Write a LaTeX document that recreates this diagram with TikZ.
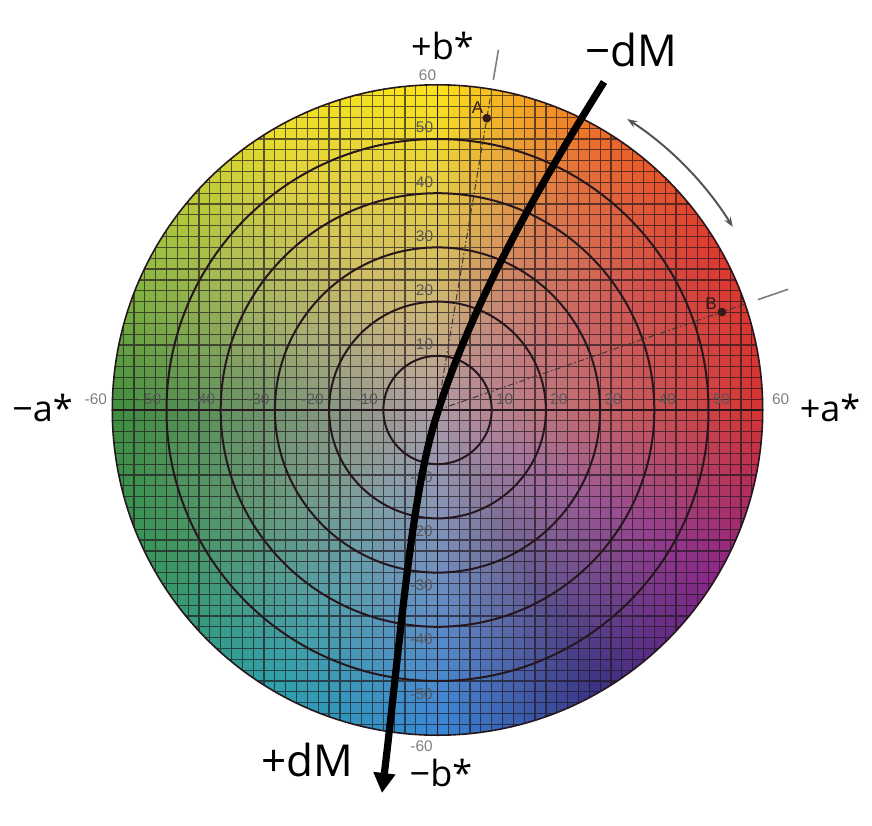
\documentclass[tikz,border=0pt]{standalone}
\usepackage{fontspec}
\setmainfont{Liberation Sans}
\newfontfamily\labfont{Open Sans}
\usetikzlibrary{arrows.meta}
\definecolor{tickgray}{RGB}{88,88,88}
\definecolor{ringc}{RGB}{38,22,30}
\definecolor{gridc}{RGB}{30,22,28}
\definecolor{refc}{RGB}{70,55,55}
\definecolor{dotc}{RGB}{55,25,25}
\definecolor{outc}{RGB}{125,125,125}
\definecolor{arrc}{RGB}{85,85,85}
\def\RA{212,222,238,252,235,158,62,55,45,55,58,140,212}
\def\GA{52,56,108,228,222,192,140,150,160,135,48,38,52}
\def\BA{50,46,40,25,42,64,62,95,170,215,130,135,50}
\begin{document}
\begin{tikzpicture}[x=0.5pt,y=0.5pt,
  tick/.style={font=\fontsize{7.7}{8}\selectfont, text=tickgray, inner sep=0pt},
  ptlab/.style={font=\fontsize{8.5}{9}\selectfont, text=dotc, inner sep=0pt},
  biglab/.style={font=\labfont\fontsize{18}{20}\selectfont, text=black, inner sep=0pt, anchor=base},
  dmlab/.style={font=\labfont\fontsize{22}{24}\selectfont, text=black, inner sep=0pt, anchor=base},
  ring/.style={draw=ringc, line width=1pt},
  gridline/.style={draw=gridc, line width=0.6pt, opacity=0.68},
  axisline/.style={draw=ringc, line width=0.8pt},
  refline/.style={draw=refc, line width=0.5pt, dash pattern=on 3pt off 1.2pt on 0.8pt off 1.2pt},
  outmark/.style={draw=outc, line width=0.8pt},
  huearrow/.style={draw=arrc, line width=1pt, arrows={Stealth[length=5pt,width=3.6pt]-Stealth[length=5pt,width=3.6pt]}},
  dmline/.style={draw=black, line width=3.6pt, arrows={-Triangle[length=10pt,width=10.5pt]}},
  dot/.style={fill=dotc}
]
\fill[white] (-437.5,-415) rectangle (434.5,410);
\useasboundingbox (-437.5,-415) rectangle (434.5,410);
\begin{scope}[x=2.71pt,y=2.71pt]
  \coordinate (O) at (0,0);
  \begin{scope}
    \clip (O) circle[radius=60];
    \foreach \i in {-30,...,29}{
      \foreach \j in {-30,...,29}{
        \pgfmathsetmacro\pa{2*\i+1}
        \pgfmathsetmacro\pb{2*\j+1}
        \pgfmathsetmacro\rad{sqrt(\pa*\pa+\pb*\pb)}
        \pgfmathtruncatemacro\inside{\rad<62.5 ? 1 : 0}
        \ifnum\inside=1
          \pgfmathsetmacro\hue{mod(atan2(\pb,\pa)+360,360)}
          \pgfmathtruncatemacro\kq{floor(\hue/30)}
          \pgfmathtruncatemacro\kr{\kq+1}
          \pgfmathsetmacro\tw{(\hue-30*\kq)/30}
          \pgfmathsetmacro\ff{min(\rad/60,1)^0.9}
          \pgfmathsetmacro\cR{(176+(({\RA}[\kq])*(1-\tw)+({\RA}[\kr])*\tw-176)*\ff)/255}
          \pgfmathsetmacro\cG{(156+(({\GA}[\kq])*(1-\tw)+({\GA}[\kr])*\tw-156)*\ff)/255}
          \pgfmathsetmacro\cB{(166+(({\BA}[\kq])*(1-\tw)+({\BA}[\kr])*\tw-166)*\ff)/255}
          \definecolor{cellc}{rgb}{\cR,\cG,\cB}
          \fill[cellc] (\pa-1.02,\pb-1.02) rectangle (\pa+1.02,\pb+1.02);
        \fi
      }
    }
    \draw[gridline] (-60,-60) grid[step=2] (60,60);
  \end{scope}
  \foreach \r in {10,20,30,40,50} \draw[ring] (O) circle[radius=\r];
  \draw[draw=ringc, line width=0.8pt] (O) circle[radius=60];
  \draw[axisline] (-60,0) -- (60,0);
  \draw[axisline] (0,-60) -- (0,60);
  % tick labels
  \foreach \v in {10,20,30,40,50}{
    \node[tick,anchor=south east,xshift=-2.5pt,yshift=2.5pt] (hm\v) at (-\v,0) {-\v};
    \node[tick,anchor=south west,xshift=2pt,yshift=2.5pt] (hp\v) at (\v,0) {\v};
    \node[tick,anchor=south east,xshift=-2pt,yshift=2.8pt] (vp\v) at (0,\v) {\v};
    \node[tick,anchor=north east,xshift=-2.2pt,yshift=-3.5pt] (vm\v) at (0,-\v) {-\v};
  }
  \node[tick,anchor=south east,xshift=-2.5pt,yshift=2.5pt,text=gray] (hm60) at (-60,0) {-60};
  \node[tick,anchor=south west,xshift=4.5pt,yshift=2.5pt,text=gray] (hp60) at (60,0) {60};
  \node[tick,anchor=south east,xshift=-0.5pt,yshift=2pt,text=gray] (vp60) at (0,60) {60};
  \node[tick,anchor=north east,xshift=-2.2pt,yshift=-2.5pt,text=gray] (vm60) at (0,-60) {-60};
  % reference lines A and B
  \coordinate (A) at (80.4:54.6);
  \coordinate (Aedge) at (80.4:60);
  \coordinate (Aout1) at (80.4:61.8);
  \coordinate (Aout2) at (80.4:67.4);
  \coordinate (B) at (19.0:55.5);
  \coordinate (Bedge) at (19.0:60);
  \coordinate (Bout1) at (19.0:62.5);
  \coordinate (Bout2) at (19.0:68.4);
  \draw[refline] (O) -- (Aedge);
  \draw[refline] (O) -- (Bedge);
  \draw[outmark] (Aout1) -- (Aout2);
  \draw[outmark] (Bout1) -- (Bout2);
  \fill[dot] (A) circle[radius=2.2pt];
  \fill[dot] (B) circle[radius=2.2pt];
  % hue arrow
  \coordinate (H1) at (56.9:64.1);
  \draw[huearrow] (H1) arc[start angle=56.9,end angle=31.8,radius=64.1];
\end{scope}
\node[ptlab] (Alab) at (40,302) {A};
\node[ptlab] (Blab) at (273.5,106.5) {B};
% thick dM curve
\coordinate (dmTop) at (166.5,328);
\coordinate (dmMid) at (-4.2,-16.7);
\coordinate (dmTip) at (-55.5,-383);
\draw[dmline] (dmTop) .. controls (100,222) and (30,100) .. (dmMid)
  .. controls (-27,-95) and (-37.5,-234) .. (dmTip);
% axis names
\node[biglab] (bplus) at (5,350) {+b*};
\node[biglab] (bminus) at (3.5,-376) {−b*};
\node[biglab] (aminus) at (-395,-11.7) {−a*};
\node[biglab] (aplus) at (392.5,-11.7) {+a*};
\node[dmlab] (dmminus) at (194,343.3) {−dM};
\node[dmlab] (dmplus) at (-130.5,-366.7) {+dM};
\end{tikzpicture}
\end{document}
